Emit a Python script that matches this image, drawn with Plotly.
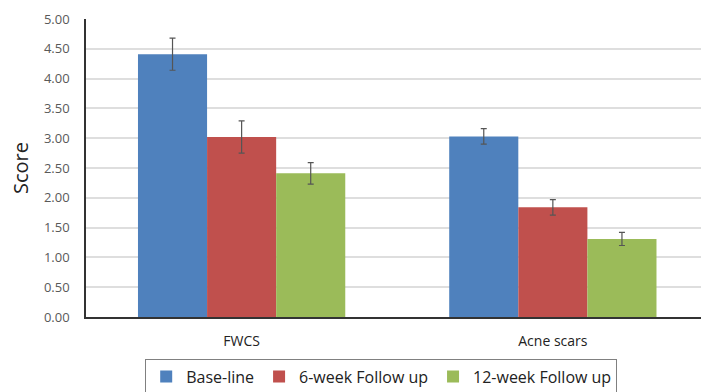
import plotly.graph_objects as go

categories = ["FWCS", "Acne scars"]
series_names = ["Base-line", "6-week Follow up", "12-week Follow up"]
baseline = [4.41, 3.03]
week6 = [3.02, 1.84]
week12 = [2.41, 1.31]
baseline_err = [0.27, 0.13]
week6_err = [0.27, 0.13]
week12_err = [0.18, 0.11]
y_ticks = [0, 0.5, 1, 1.5, 2, 2.5, 3, 3.5, 4, 4.5, 5]

colors = ["#4F81BD", "#C0504D", "#9BBB59"]
fig = go.Figure()
for name, vals, errs, c in zip(series_names, [baseline, week6, week12],
                                [baseline_err, week6_err, week12_err], colors):
    fig.add_trace(go.Bar(
        x=categories, y=vals, name=name, marker=dict(color=c, line=dict(width=0)),
        error_y=dict(type="data", array=errs, visible=True, color="#555555",
                     thickness=1.2, width=3),
    ))

fig.update_layout(
    width=701, height=392,
    margin=dict(l=86, r=0, t=19, b=75, autoexpand=False),
    paper_bgcolor="white", plot_bgcolor="white",
    barmode="group", bargap=0.334, bargroupgap=0,
    font=dict(family="Open Sans, sans-serif", color="#404040"),
    showlegend=True,
    legend=dict(orientation="h", x=0.48, xanchor="center", y=-0.14, yanchor="top",
                bordercolor="#808080", borderwidth=1, font=dict(size=16, color="#222222"),
                traceorder="normal", itemwidth=30),
    xaxis=dict(range=[-0.5, 1.476], showline=True, linecolor="#333333", linewidth=1.5,
               ticks="outside", ticklen=10, tickcolor="rgba(0,0,0,0)",
               tickfont=dict(size=14, color="#222222"), showgrid=False,
               automargin=False),
    yaxis=dict(range=[0, 5.0], tickvals=y_ticks, tickformat=".2f",
               showgrid=True, gridcolor="#dedede", gridwidth=1.5,
               showline=True, linecolor="#333333", linewidth=1.5, zeroline=False,
               tickfont=dict(size=13, color="#595959"), ticks="outside", ticklen=12,
               tickcolor="rgba(0,0,0,0)", automargin=False,
               title=dict(text="Score", font=dict(size=20, color="#222222"), standoff=10)),
)
fig.write_html("out.html", config={"displayModeBar": False},
               post_script="document.body.style.margin='0';document.body.style.overflow='hidden';")
